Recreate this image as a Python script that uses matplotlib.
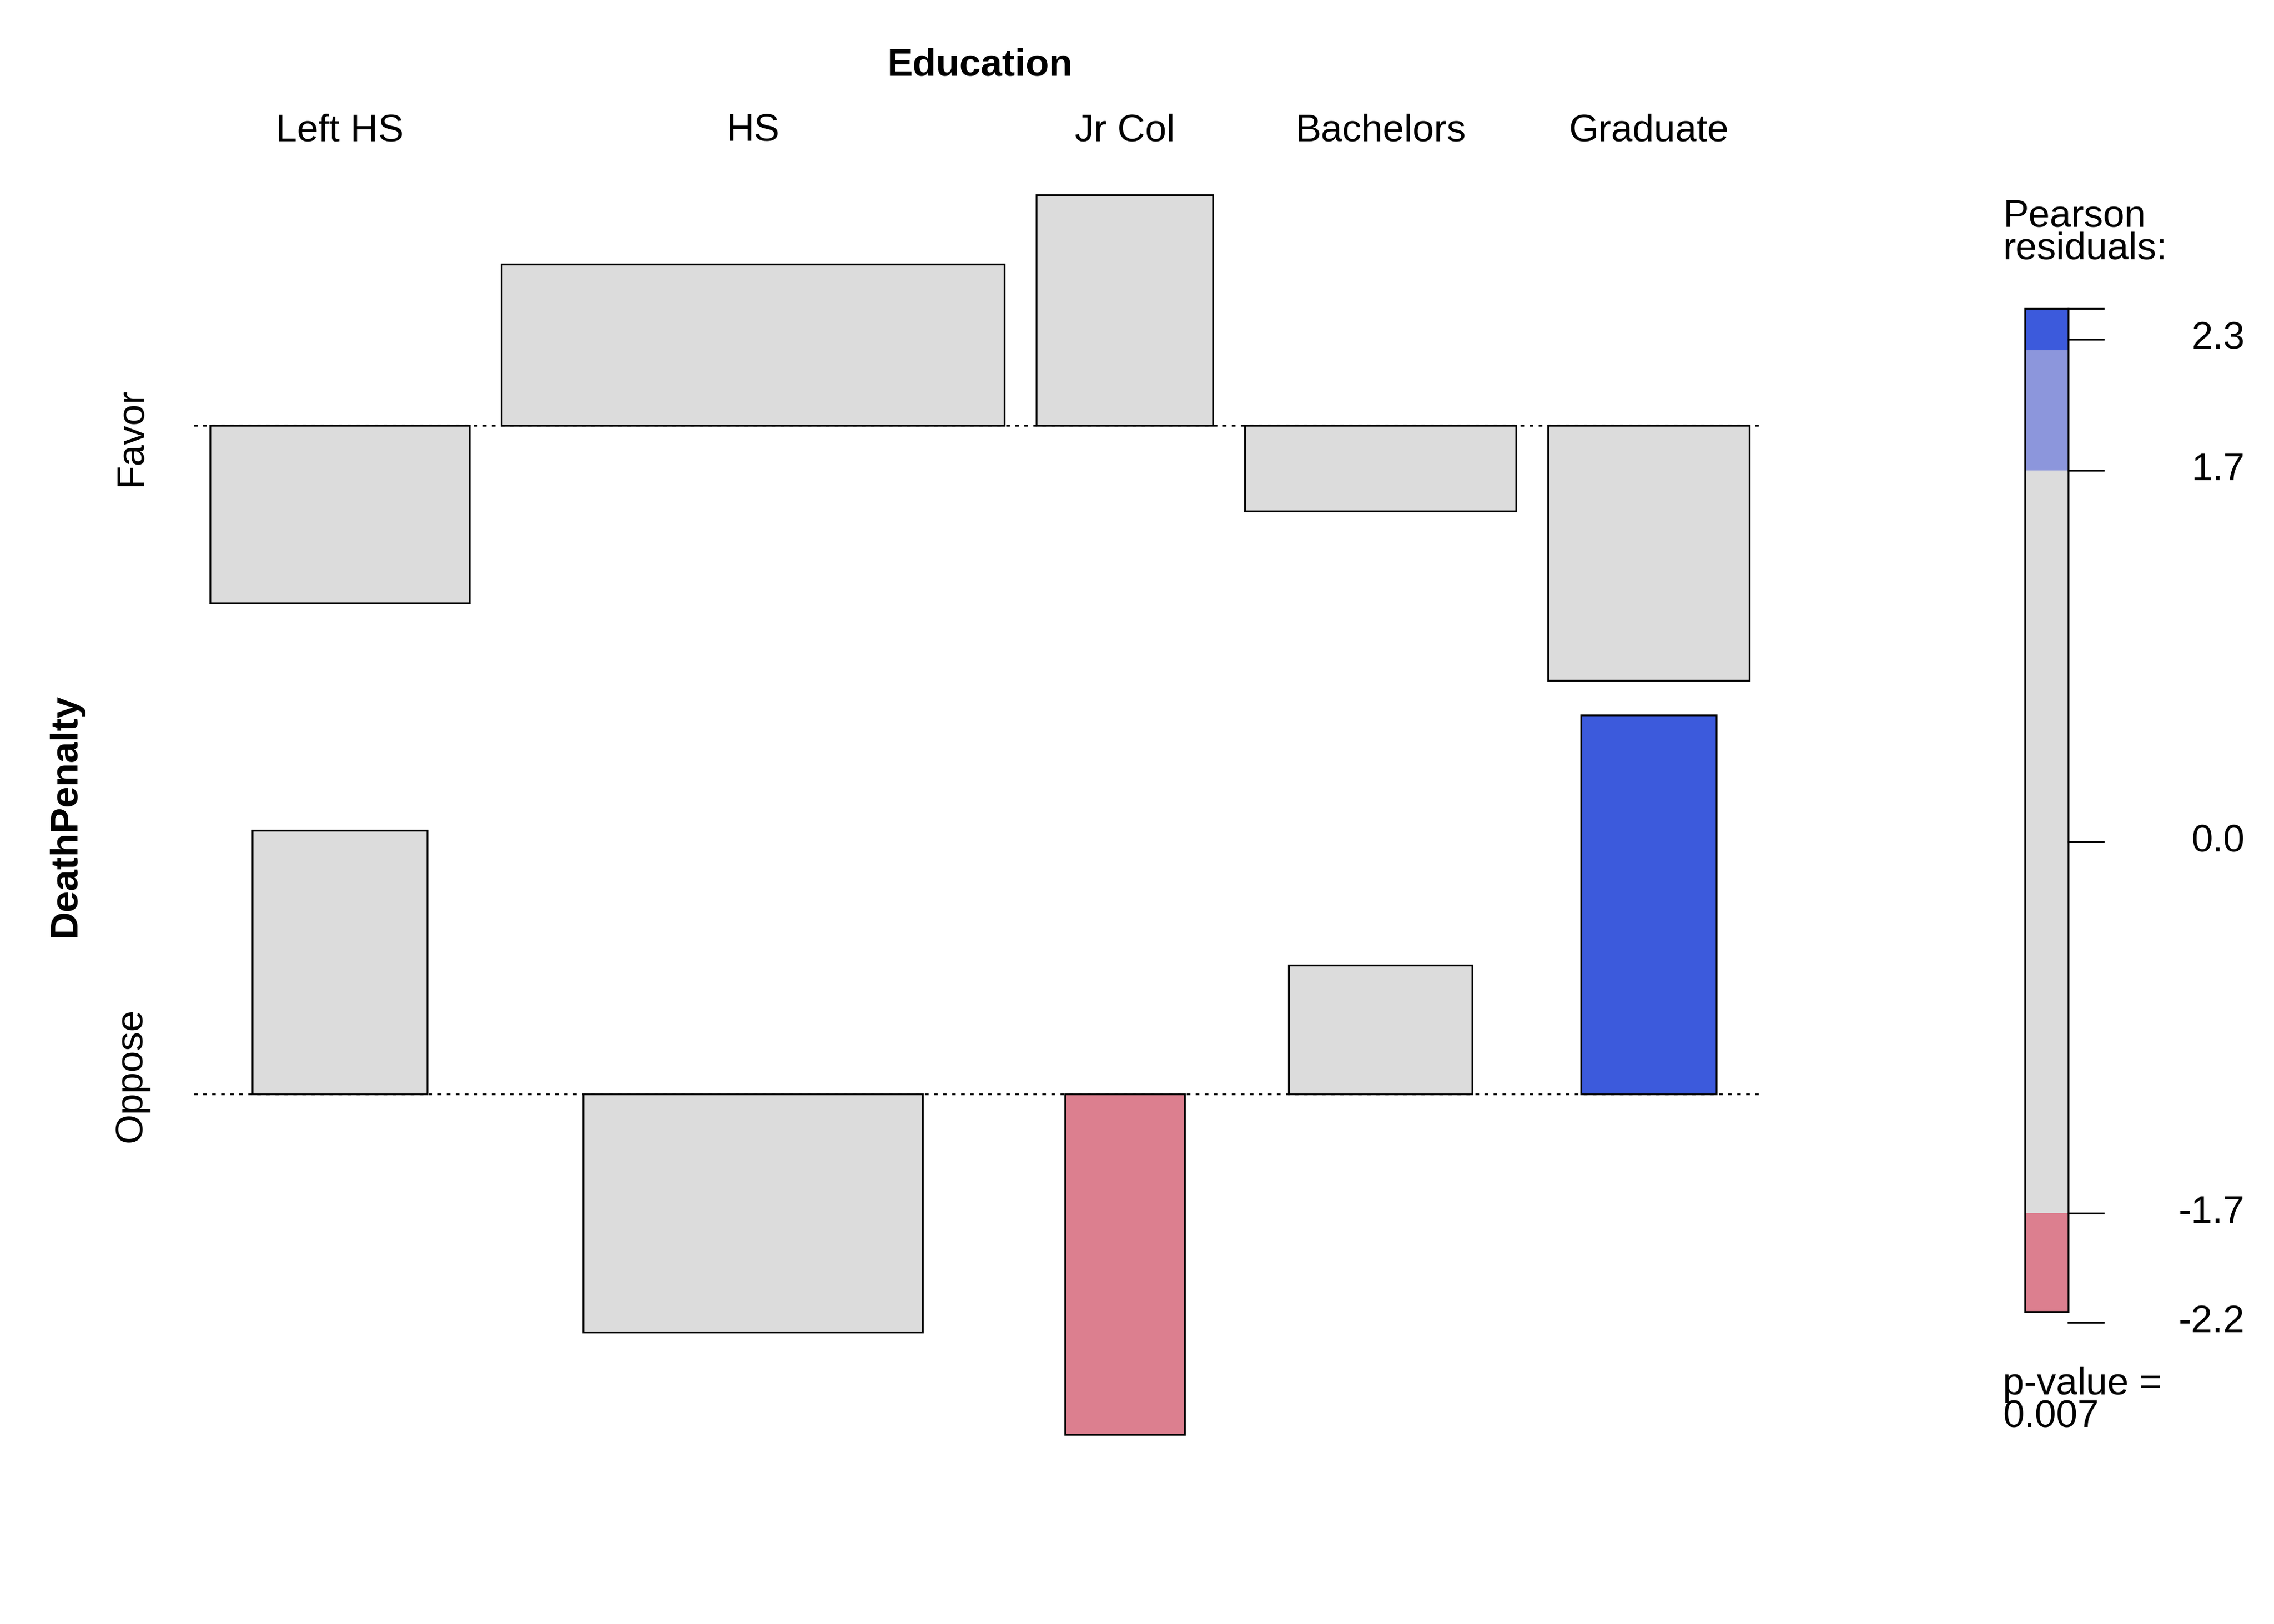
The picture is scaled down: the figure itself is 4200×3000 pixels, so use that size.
import numpy as np
import matplotlib.pyplot as plt
from matplotlib.patches import Rectangle

plt.rcParams['font.family'] = ['Liberation Sans', 'DejaVu Sans']

education = ['Left HS', 'HS', 'Jr Col', 'Bachelors', 'Graduate']
penalty = ['Favor', 'Oppose']
# Pearson residuals (rows: Favor, Oppose)
resid = np.array([[-1.08, 0.98, 1.40, -0.52, -1.55],
                  [1.60, -1.45, -2.07, 0.78, 2.30]])
# bar widths ~ sqrt(expected counts)
widths = np.array([[178, 345, 121, 186, 138],
                   [120, 233, 82, 126, 93]])
legend_ticks = [2.3, 1.7, 0.0, -1.7, -2.2]
p_value = 0.007

GRAY = '#DCDCDC'
BLUE = '#3C5ADC'
LBLUE = '#8C96DC'
RED = '#DC7F8F'


def shade(r):
    if r > 2:
        return BLUE
    if r > 1.7 and r <= 2:
        return LBLUE
    if r < -2:
        return RED
    return GRAY


fig = plt.figure(figsize=(14, 10), dpi=300)
ax = fig.add_axes([0, 0, 1, 1])
ax.set_xlim(0, 1560)
ax.set_ylim(1115, 0)
ax.axis('off')

unit = 113  # px per residual unit
gap = 22
baselines = [292, 751]
col_w = widths.max(axis=0)
lefts = 144 + np.concatenate([[0], np.cumsum(col_w[:-1] + gap)])
centers = lefts + col_w / 2

for i, base in enumerate(baselines):
    ax.plot([133, 1210], [base, base], ls=(0, (2, 3)), color='black', lw=0.8, zorder=1)
    for j, c in enumerate(centers):
        w = widths[i, j]
        h = -resid[i, j] * unit
        ax.add_patch(Rectangle((c - w / 2, base), w, h, facecolor=shade(resid[i, j]),
                               edgecolor='black', lw=0.8, zorder=2))

for j, c in enumerate(centers):
    ax.text(c, 90, education[j], ha='center', va='center', fontsize=17)
ax.text(672, 45, 'Education', ha='center', va='center', fontsize=17, fontweight='bold')
ax.text(90, 300, penalty[0], ha='center', va='center', fontsize=17, rotation=90)
ax.text(90, 738, penalty[1], ha='center', va='center', fontsize=17, rotation=90)
ax.text(45, 560, 'DeathPenalty', ha='center', va='center', fontsize=17,
        fontweight='bold', rotation=90)

# legend
lx0, lx1 = 1389, 1419
y0, s = 578, 150


def ly(v):
    return y0 - v * s


top, bot = 2.44, -2.15
segs = [(bot, -1.7, RED), (-1.7, 1.7, GRAY), (1.7, 2.25, LBLUE), (2.25, top, BLUE)]
for a, b, col in segs:
    ax.add_patch(Rectangle((lx0, ly(b)), lx1 - lx0, ly(a) - ly(b), facecolor=col,
                           edgecolor='none'))
ax.add_patch(Rectangle((lx0, ly(top)), lx1 - lx0, ly(bot) - ly(top), facecolor='none',
                       edgecolor='black', lw=0.8))
for v in legend_ticks + [top]:
    ax.plot([lx1, 1443], [ly(v), ly(v)], color='black', lw=0.8)
for v in legend_ticks:
    ax.text(1540, ly(v), f'{v:.1f}', ha='right', va='center', fontsize=17)
ax.text(1374, 160, 'Pearson\nresiduals:', ha='left', va='center', fontsize=17, linespacing=0.9)
ax.text(1374, 962, f'p-value =\n{p_value:.3f}', ha='left', va='center', fontsize=17,
        linespacing=0.9)

fig.savefig('out.png', dpi=300)
